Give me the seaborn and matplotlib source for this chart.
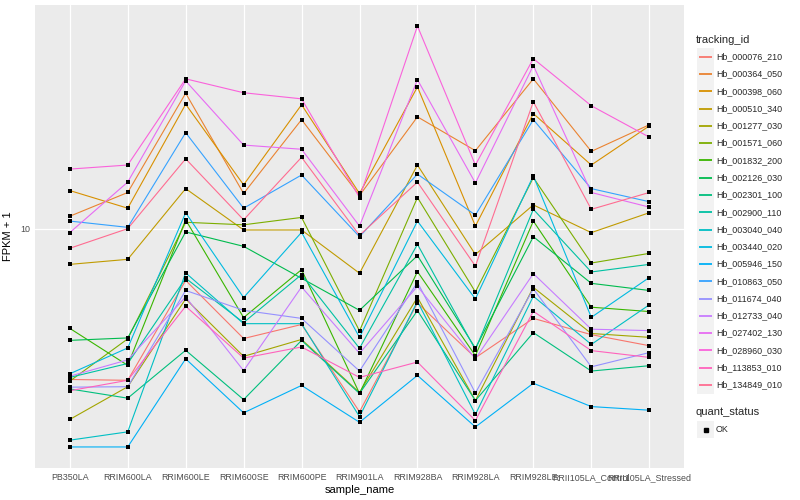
import numpy as np
import pandas as pd
import matplotlib
matplotlib.use('Agg')
import matplotlib.pyplot as plt
from matplotlib.lines import Line2D
from matplotlib.patches import Rectangle
import seaborn as sns

# ─── Data (FPKM + 1) ──────────────────────────────────────────────────────────
samples = ['PB350LA', 'RRIM600LA', 'RRIM600LE', 'RRIM600SE', 'RRIM600PE',
           'RRIM901LA', 'RRIM928BA', 'RRIM928LA', 'RRIM928LE',
           'RRII105LA_Control', 'RRII105LA_Stressed']

tracking_ids = ['Hb_000076_210', 'Hb_000364_050', 'Hb_000398_060', 'Hb_000510_340',
                'Hb_001277_030', 'Hb_001571_060', 'Hb_001832_200', 'Hb_002126_030',
                'Hb_002301_100', 'Hb_002900_110', 'Hb_003040_040', 'Hb_003440_020',
                'Hb_005946_150', 'Hb_010863_050', 'Hb_011674_040', 'Hb_012733_040',
                'Hb_027402_130', 'Hb_028960_030', 'Hb_113853_010', 'Hb_134849_010']

hb_000076 = [3.14, 3.12, 6.72, 4.30, 4.79, 2.45, 5.65, 3.71, 5.02, 4.43, 4.07]
hb_000364 = [11.0, 13.2, 28.3, 13.1, 23.1, 12.9, 23.6, 18.2, 31.6, 18.1, 22.2]
hb_000398 = [13.4, 11.7, 26.0, 14.0, 25.9, 13.1, 29.7, 10.2, 24.2, 16.3, 22.0]
hb_000510 = [7.6, 7.9, 13.6, 9.9, 9.9, 7.1, 16.3, 8.2, 12.0, 9.7, 11.3]
hb_001277 = [2.31, 2.97, 5.83, 3.75, 4.27, 2.84, 5.90, 2.67, 6.37, 4.47, 4.34]
hb_001571 = [3.10, 4.29, 10.5, 10.3, 10.9, 4.56, 12.7, 6.15, 14.8, 7.68, 8.27]
hb_001832 = [4.65, 3.50, 10.7, 5.05, 7.30, 2.82, 7.19, 3.77, 10.6, 5.47, 5.29]
hb_002126 = [4.24, 4.32, 9.75, 8.73, 6.83, 5.34, 8.13, 3.99, 9.40, 6.57, 6.22]
hb_002301 = [2.92, 2.72, 3.93, 2.69, 4.24, 2.82, 5.33, 2.67, 4.50, 3.35, 3.49]
hb_002900 = [3.19, 3.55, 6.83, 4.86, 7.03, 3.99, 8.87, 3.95, 11.6, 7.17, 7.60]
hb_003040 = [1.97, 2.10, 7.12, 4.82, 4.82, 2.36, 5.72, 2.40, 5.95, 4.11, 5.57]
hb_003440 = [3.28, 4.00, 11.3, 5.89, 9.72, 4.34, 10.6, 5.83, 15.0, 5.06, 6.87]
hb_005946 = [1.87, 1.87, 3.68, 2.43, 3.00, 2.26, 3.24, 2.18, 3.05, 2.55, 2.48]
hb_010863 = [10.6, 10.1, 20.9, 11.7, 15.1, 9.4, 15.2, 11.1, 23.1, 13.6, 12.3]
hb_011674 = [2.96, 2.97, 6.22, 5.34, 5.02, 3.35, 6.62, 2.83, 6.30, 3.46, 3.86]
hb_012733 = [3.22, 3.65, 5.92, 3.36, 6.39, 3.84, 6.42, 3.68, 7.08, 4.62, 4.57]
hb_027402 = [9.7, 14.3, 31.1, 19.0, 18.4, 10.2, 31.4, 14.2, 35.0, 13.2, 11.8]
hb_028960 = [15.8, 16.3, 31.6, 28.4, 27.1, 12.7, 47.4, 16.3, 36.9, 25.7, 20.2]
hb_113853 = [2.88, 3.12, 5.51, 3.70, 4.03, 3.19, 3.59, 2.29, 5.30, 3.92, 3.72]
hb_134849 = [8.6, 10.0, 17.1, 10.7, 17.3, 9.5, 14.3, 7.5, 26.5, 11.6, 13.2]

series = [hb_000076, hb_000364, hb_000398, hb_000510, hb_001277, hb_001571,
          hb_001832, hb_002126, hb_002301, hb_002900, hb_003040, hb_003440,
          hb_005946, hb_010863, hb_011674, hb_012733, hb_027402, hb_028960,
          hb_113853, hb_134849]

# ggplot2 default hue palette for 20 levels
PALETTE = ['#F8766D', '#EA8331', '#D89000', '#C09B00', '#A3A500', '#7CAE00',
           '#39B600', '#00BB4E', '#00BF7D', '#00C1A3', '#00BFC4', '#00BAE0',
           '#00B0F6', '#35A2FF', '#9590FF', '#C77CFF', '#E76BF3', '#FA62DB',
           '#FF62BC', '#FF6C91']

rows = []
for tid, vals in zip(tracking_ids, series):
    for i, (s, v) in enumerate(zip(samples, vals)):
        rows.append({'tracking_id': tid, 'sample_name': s, 'pos': i, 'fpkm': v})
df = pd.DataFrame(rows)

# ─── Plot ─────────────────────────────────────────────────────────────────────
sns.set_style('white')
plt.rcParams['font.family'] = ['Liberation Sans', 'DejaVu Sans']

TICK_FS = 6.4
TITLE_FS = 8.0

fig = plt.figure(figsize=(8, 5), dpi=100)
ax = fig.add_axes([35 / 800, 1 - 468 / 500, (684 - 35) / 800, (468 - 5) / 500])
ax.set_facecolor('#EBEBEB')

sns.lineplot(data=df, x='pos', y='fpkm', hue='tracking_id', hue_order=tracking_ids,
             palette=PALETTE, sort=False, linewidth=0.8, legend=False, ax=ax, zorder=2)
sns.scatterplot(data=df, x='pos', y='fpkm', color='black', marker='s', s=8,
                linewidth=0, legend=False, ax=ax, zorder=3)

ax.set_yscale('log')
lo, hi = np.log10(df['fpkm'].min()), np.log10(df['fpkm'].max())
pad = 0.05 * (hi - lo)
ax.set_ylim(10 ** (lo - pad), 10 ** (hi + pad))
ax.set_xlim(-0.6, len(samples) - 0.4)

ax.set_yticks([10])
ax.set_yticklabels(['10'])
ax.yaxis.set_minor_locator(matplotlib.ticker.NullLocator())
ax.set_xticks(range(len(samples)))
ax.set_xticklabels(samples)

ax.grid(True, which='major', color='white', linewidth=0.9)
ax.set_axisbelow(True)
for sp in ax.spines.values():
    sp.set_visible(False)
ax.tick_params(axis='both', length=2.2, width=0.8, color='#333333',
               labelcolor='#4D4D4D', labelsize=TICK_FS, pad=1.5)
ax.set_xlabel('sample_name', fontsize=TITLE_FS, color='black', labelpad=2)
ax.set_ylabel('FPKM + 1', fontsize=TITLE_FS, color='black', labelpad=5)

# ─── Legends (ggplot-style, drawn in figure pixels) ───────────────────────────
def px(x, y):
    return x / 800, 1 - y / 500

fig.text(*px(696, 40), 'tracking_id', fontsize=TITLE_FS, va='center', ha='left')
for i, (tid, col) in enumerate(zip(tracking_ids, PALETTE)):
    yc = 56.7 + 17.28 * i
    x0, y0 = px(697, yc + 8.6)
    fig.add_artist(Rectangle((x0, y0), 17 / 800, 17.28 / 500, transform=fig.transFigure,
                             facecolor='#F2F2F2', edgecolor='none'))
    xa, ya = px(698.5, yc)
    xb, _ = px(712, yc)
    fig.add_artist(Line2D([xa, xb], [ya, ya], transform=fig.transFigure,
                          color=col, linewidth=1.3, solid_capstyle='butt'))
    fig.text(*px(716, yc), tid, fontsize=TICK_FS, va='center', ha='left')

fig.text(*px(696, 412), 'quant_status', fontsize=TITLE_FS, va='center', ha='left')
x0, y0 = px(697, 429.5 + 8.6)
fig.add_artist(Rectangle((x0, y0), 17 / 800, 17.28 / 500, transform=fig.transFigure,
                         facecolor='#F2F2F2', edgecolor='none'))
fig.add_artist(Line2D([px(705.5, 0)[0]], [px(0, 429.5)[1]], transform=fig.transFigure,
                      marker='s', markersize=2.5, color='black', linestyle='none'))
fig.text(*px(716, 429.5), 'OK', fontsize=TICK_FS, va='center', ha='left')

plt.savefig('out.png', dpi=100)
plt.close()
